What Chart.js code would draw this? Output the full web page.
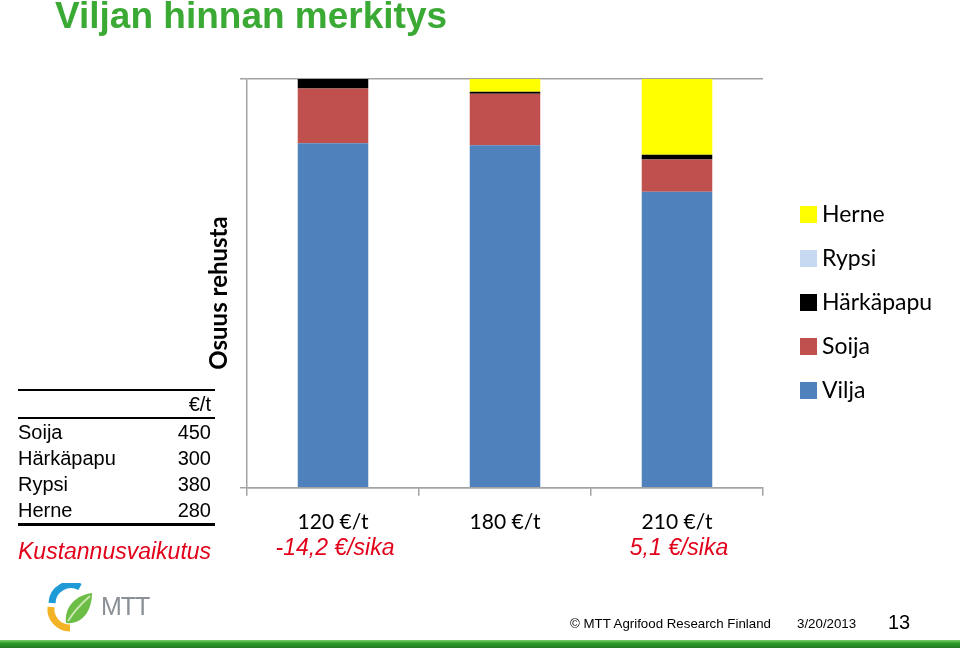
<!DOCTYPE html>
<html>
<head>
<meta charset="utf-8">
<script src="https://cdn.jsdelivr.net/npm/chart.js@4"></script>
<style>
  html, body { margin: 0; padding: 0; background: #fff; }
  body { width: 960px; height: 648px; position: relative; overflow: hidden; font-family: "Liberation Sans", Arial, sans-serif; }
  #chart { position: absolute; left: 0; top: 0; }
  .title { position: absolute; left: 55px; top: -5px; font-weight: bold; font-size: 37px; color: #3aaa35; white-space: nowrap; }
  .price-table { position: absolute; left: 18px; top: 389px; width: 197px; border-collapse: collapse; font-size: 20px; color: #000; }
  .price-table td { padding: 0; height: 26px; line-height: 26px; }
  .price-table tr.head td { height: 25px; }
  .price-table td.v { text-align: right; padding-right: 4px; }
  .price-table tr.head td { border-top: 2px solid #000; border-bottom: 2px solid #000; }
  .price-table tr.last td { border-bottom: 3px solid #000; }
  .cost { position: absolute; left: 18px; top: 538px; font-size: 23px; font-style: italic; color: #e2001a; white-space: nowrap; }
  .footer { position: absolute; top: 616px; font-size: 13.3px; color: #000; white-space: nowrap; }
  .page { position: absolute; left: 888px; top: 611px; font-size: 20px; }
  .bar { position: absolute; left: 0; top: 640px; width: 960px; height: 8px; background: linear-gradient(#7ad068, #2f9a2a 40%, #237a22); }
  .logo { position: absolute; left: 46px; top: 583px; }
</style>
</head>
<body>
<canvas id="chart" width="960" height="648"></canvas>
<div class="title">Viljan hinnan merkitys</div>
<table class="price-table" id="price-table"></table>
<div class="cost">Kustannusvaikutus</div>
<svg class="logo" width="120" height="50" viewBox="0 0 120 50">
  <path d="M6 20 A19 19 0 0 1 34 4" stroke="#1e9ad6" stroke-width="7" fill="none"/>
  <path d="M5 24 A19 19 0 0 0 24 45" stroke="#f4b324" stroke-width="7" fill="none"/>
  <path d="M20 40 C18 24 30 12 46 10 C46 28 36 42 20 40 Z" fill="#6cbd45"/>
  <path d="M22 38 C28 28 36 20 44 13" stroke="#c9e7b1" stroke-width="2" fill="none"/>
  <text x="55" y="32" font-family="Liberation Sans, Arial" font-size="25" fill="#8a9096" letter-spacing="-1">MTT</text>
</svg>
<div class="footer" style="left:570px">© MTT Agrifood Research Finland</div>
<div class="footer" style="left:797px">3/20/2013</div>
<div class="page">13</div>
<div class="bar"></div>
<script>
// Feed composition by grain price
const priceLabels = ['120 €/t', '180 €/t', '210 €/t'];
const costEffects = ['-14,2 €/sika', '', '5,1 €/sika'];

const vilja = [84.3, 83.8, 72.4];
const soija = [13.4, 12.6, 7.9];
const harkapapu = [2.3, 0.5, 1.2];
const rypsi = [0, 0, 0];
const herne = [0, 3.1, 18.5];

const proteinNames = ['Soija', 'Härkäpapu', 'Rypsi', 'Herne'];
const proteinPrices = [450, 300, 380, 280];

const calibri = 'Lato, "Open Sans", sans-serif';
const axisGrey = '#a3a3a3';

function buildTable() {
  const table = document.getElementById('price-table');
  let html = '<tr class="head"><td></td><td class="v">€/t</td></tr>';
  proteinNames.forEach((name, i) => {
    const cls = i === proteinNames.length - 1 ? ' class="last"' : '';
    html += `<tr${cls}><td>${name}</td><td class="v">${proteinPrices[i]}</td></tr>`;
  });
  table.innerHTML = html;
}

// legend on the right, top item first (reverse of stack order)
const sideLegend = {
  id: 'sideLegend',
  afterDraw(chart) {
    const ctx = chart.ctx;
    const sets = chart.data.datasets.slice().reverse();
    ctx.save();
    ctx.font = `23px ${calibri}`;
    ctx.textBaseline = 'middle';
    ctx.textAlign = 'left';
    sets.forEach((ds, i) => {
      const y = 214 + i * 44;
      ctx.fillStyle = ds.backgroundColor;
      ctx.fillRect(800, y - 8, 17, 17);
      ctx.fillStyle = '#000';
      ctx.fillText(ds.label, 822, y + 1);
    });
    ctx.restore();
  }
};

const yTitle = {
  id: 'yTitle',
  afterDraw(chart) {
    const ctx = chart.ctx;
    ctx.save();
    ctx.translate(219, 293);
    ctx.rotate(-Math.PI / 2);
    ctx.font = `bold 24px ${calibri}`;
    ctx.textAlign = 'center';
    ctx.textBaseline = 'middle';
    ctx.fillStyle = '#000';
    ctx.fillText('Osuus rehusta', 0, 0);
    ctx.restore();
  }
};

// red cost effect under each price label
const costLabels = {
  id: 'costLabels',
  afterDraw(chart) {
    const ctx = chart.ctx;
    const xScale = chart.scales.x;
    ctx.save();
    ctx.font = 'italic 23px "Liberation Sans", Arial';
    ctx.textAlign = 'center';
    ctx.textBaseline = 'middle';
    ctx.fillStyle = '#e2001a';
    costEffects.forEach((text, i) => {
      if (!text) return;
      ctx.fillText(text, xScale.getPixelForValue(i) + 2, 549);
    });
    ctx.restore();
  }
};

function renderChart() {
  const ctx = document.getElementById('chart');
  new Chart(ctx, {
    type: 'bar',
    data: {
      labels: priceLabels,
      datasets: [
        { label: 'Vilja', data: vilja, backgroundColor: '#4f81bd' },
        { label: 'Soija', data: soija, backgroundColor: '#c0504d' },
        { label: 'Härkäpapu', data: harkapapu, backgroundColor: '#000000' },
        { label: 'Rypsi', data: rypsi, backgroundColor: '#c6d9f1' },
        { label: 'Herne', data: herne, backgroundColor: '#ffff00' }
      ]
    },
    options: {
      responsive: false,
      animation: false,
      barPercentage: 0.41,
      categoryPercentage: 1,
      layout: { padding: { left: 240, top: 79, right: 197, bottom: 99 } },
      plugins: {
        legend: { display: false },
        tooltip: { enabled: false }
      },
      scales: {
        x: {
          stacked: true,
          grid: { offset: true, drawOnChartArea: false, drawTicks: true, tickLength: 8, color: axisGrey, lineWidth: 1.5 },
          border: { display: true, color: axisGrey, width: 1.5 },
          ticks: { color: '#000', padding: 14, font: { family: calibri, size: 21 } }
        },
        y: {
          stacked: true,
          min: 0,
          max: 100,
          ticks: { display: false, stepSize: 100 },
          grid: { drawTicks: true, tickLength: 7, color: axisGrey, lineWidth: 1.5 },
          border: { display: true, color: axisGrey, width: 1.5 }
        }
      }
    },
    plugins: [sideLegend, yTitle, costLabels]
  });
}

buildTable();
renderChart();
</script>
</body>
</html>
